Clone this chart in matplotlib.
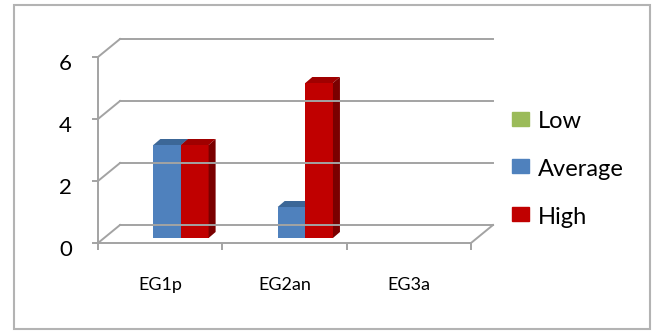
import numpy as np
import matplotlib
matplotlib.use('Agg')
import matplotlib.pyplot as plt
from matplotlib.patches import Polygon, Rectangle
from matplotlib.transforms import ScaledTranslation

# chart data
categories = ['EG1p', 'EG2an', 'EG3a']
series_names = ['Low', 'Average', 'High']
low = [0, 0, 0]
average = [3, 1, 0]
high = [3, 5, 0]
y_ticks = [0, 2, 4, 6]

front_colors = ['#9BBB59', '#4F81BD', '#C00000']
top_colors = ['#7E9A44', '#3C6797', '#A00000']
side_colors = ['#6A823A', '#2F5582', '#7A0000']

plt.rcParams['font.family'] = ['Lato', 'DejaVu Sans']

W, H, DPI = 653, 331, 100
fig = plt.figure(figsize=(W / DPI, H / DPI), dpi=DPI)

# front plane of the plot area, in pixels (top-left origin)
left, right, bottom, top = 98, 471, 243, 57
ax = fig.add_axes([left / W, 1 - bottom / H, (right - left) / W, (bottom - top) / H])
ax.set_xlim(0, 3)
ax.set_ylim(0, 6)
ax.axis('off')


def shifted(dx, dy):
    return ax.transData + ScaledTranslation(dx / DPI, dy / DPI, fig.dpi_scale_trans)


grid_c = '#a3a3a3'
back = shifted(22, 18)
mid = shifted(7, 5)

# back wall gridlines + left wall diagonals
for v in y_ticks:
    ax.plot([0, 3], [v, v], color=grid_c, lw=1.4, transform=back, clip_on=False)
    x0, y0 = ax.transData.transform((0, v))
    fx, fy = fig.transFigure.inverted().transform([(x0, y0), (x0 + 22, y0 + 18)]).T
    fig.add_artist(plt.Line2D(fx, fy, color=grid_c, lw=1.4))
# floor right edge
x0, y0 = ax.transData.transform((3, 0))
fx, fy = fig.transFigure.inverted().transform([(x0, y0), (x0 + 22, y0 + 18)]).T
fig.add_artist(plt.Line2D(fx, fy, color=grid_c, lw=1.4))

# front axes
ax.plot([0, 0], [0, 6], color=grid_c, lw=1.4, clip_on=False)
ax.plot([0, 3], [0, 0], color=grid_c, lw=1.4, clip_on=False)
for v in y_ticks:
    ax.plot([0], [v], color=grid_c, clip_on=False,
            marker=0, markersize=4, markeredgewidth=1.4)
    ax.text(0, v, str(v), transform=shifted(-26, -7), ha='right', va='center',
            fontsize=16, color='#000000')
for i in range(len(categories) + 1):
    ax.plot([i], [0], marker=3, color=grid_c, markersize=5, markeredgewidth=1.4,
            clip_on=False)
for i, c in enumerate(categories):
    ax.text(i + 0.5, 0, c, transform=shifted(0, -42), ha='center', va='center',
            fontsize=13, color='#000000')

# 3D bars
bw = 1 / 4.5
px_x = 3 / (right - left)
px_y = 6 / (bottom - top)
ddx, ddy = 7 * px_x, 6 * px_y
data = [low, average, high]
for ci in range(len(categories)):
    for si, vals in enumerate(data):
        h = vals[ci]
        if h <= 0:
            continue
        x0 = ci + 0.5 + (si - 1) * bw - bw / 2
        x1 = x0 + bw
        ax.bar(x0, h, bw, align='edge', color=front_colors[si], transform=mid, lw=0)
        ax.add_patch(Polygon([(x0, h), (x1, h), (x1 + ddx, h + ddy), (x0 + ddx, h + ddy)],
                             closed=True, color=top_colors[si], lw=0, transform=mid))
        ax.add_patch(Polygon([(x1, 0), (x1 + ddx, ddy), (x1 + ddx, h + ddy), (x1, h)],
                             closed=True, color=side_colors[si], lw=0, transform=mid))

# legend
for si, name in enumerate(series_names):
    yc = [119, 166, 214][si]
    fig.patches.append(Rectangle((512 / W, 1 - (yc + 7) / H), 17 / W, 14 / H,
                                 transform=fig.transFigure, color=front_colors[si], figure=fig))
    fig.text(538 / W, 1 - (yc + 3) / H, name, ha='left', va='center', fontsize=17)

# outer border
fig.patches.append(Rectangle((14 / W, 1 - 329 / H), 636 / W, 324 / H, fill=False,
                             edgecolor='#b3b3b3', lw=1.5, transform=fig.transFigure, figure=fig))

fig.savefig('out.png', dpi=DPI)
